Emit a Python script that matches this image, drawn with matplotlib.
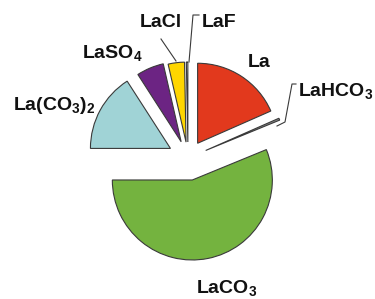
import matplotlib.pyplot as plt

plt.rcParams["font.family"] = ["Liberation Sans", "DejaVu Sans"]
plt.rcParams["mathtext.fontset"] = "custom"
plt.rcParams["mathtext.rm"] = "Liberation Sans:bold"
plt.rcParams["mathtext.it"] = "Liberation Sans:bold"
plt.rcParams["mathtext.bf"] = "Liberation Sans:bold"
plt.rcParams["mathtext.default"] = "rm"

# La species distribution (%)
species = ["La", "LaHCO3", "LaCO3", "La(CO3)2", "LaSO4", "LaCl", "LaF"]
shares = [18.4, 0.4, 56.2, 15.9, 5.5, 3.3, 0.3]
colors = ["#e2391d", "#8a8a8a", "#74b33f", "#a0d3d6", "#6c2483", "#ffd600", "#e8e8e8"]
explode = [0.22, 0.24, 0.28, 0.25, 0.22, 0.2, 0.2]

W, H = 375, 299
R = 80
fig = plt.figure(figsize=(W / 100, H / 100), dpi=100)
ax = fig.add_axes([0, 0, 1, 1])

# explode is in data units, so scale by radius
ax.pie(
    shares,
    explode=[e * R for e in explode],
    colors=colors,
    startangle=90,
    counterclock=False,
    center=(188, H - 158),
    radius=R,
    wedgeprops=dict(edgecolor="#3a3a3a", linewidth=0.8),
    frame=True,
)
ax.set_xlim(0, W)
ax.set_ylim(0, H)
ax.set_aspect("equal")
ax.axis("off")


def py(y):
    return H - y


labels = [
    ("La", 248, 67),
    ("LaHCO$_3$", 298, 96),
    ("LaCO$_3$", 196, 293),
    ("La(CO$_3$)$_2$", 13, 110),
    ("LaSO$_4$", 82, 58),
    ("LaCl", 140, 27),
    ("LaF", 202, 27),
]
for txt, x, y in labels:
    ax.text(x, py(y), txt, ha="left", va="baseline", fontsize=14,
            fontweight="bold", color="#111111")

# leader lines
leaders = [
    [(199, 15), (193, 15), (189, 62)],
    [(161, 39), (176, 61)],
    [(296, 84), (292, 84), (285, 122), (277, 126)],
]
for pts in leaders:
    ax.plot([p[0] for p in pts], [py(p[1]) for p in pts], color="#3a3a3a", lw=0.8)

fig.savefig("out.png", dpi=100, facecolor="white")
